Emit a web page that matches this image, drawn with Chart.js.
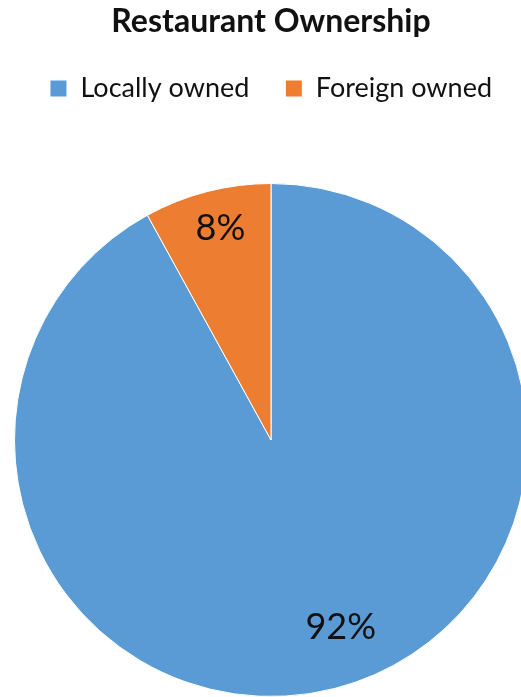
<!DOCTYPE html>
<html>
<head>
<meta charset="utf-8">
<title>Restaurant Ownership</title>
<script src="https://cdn.jsdelivr.net/npm/chart.js@4/dist/chart.umd.min.js"></script>
<style>
  html, body { margin: 0; padding: 0; background: #fff; overflow: hidden; }
  #wrap { width: 542px; height: 697px; position: relative; }
</style>
</head>
<body>
<div id="wrap"><canvas id="ownershipChart"></canvas></div>
<script>
// Ownership split, in percent
const categories = ['Locally owned', 'Foreign owned'];
const shares = [92, 8];
const sliceColors = ['#5B9BD5', '#ED7D31'];

// where each percent label sits: fraction of radius, angle nudge in degrees
const labelPlacement = [
    { radius: 0.78, nudge: -6 },
    { radius: 0.85, nudge: 1 }
];

const FONT = "Lato, 'Open Sans', sans-serif";

// Draws "NN%" on every slice
const sliceLabels = {
    id: 'sliceLabels',
    afterDatasetsDraw(chart) {
        const ctx = chart.ctx;
        const meta = chart.getDatasetMeta(0);
        ctx.save();
        ctx.font = '36px ' + FONT;
        ctx.fillStyle = '#111';
        ctx.textAlign = 'center';
        ctx.textBaseline = 'middle';
        meta.data.forEach(function(arc, i) {
            const p = arc.getProps(['x', 'y', 'startAngle', 'endAngle', 'outerRadius'], true);
            const place = labelPlacement[i];
            const mid = (p.startAngle + p.endAngle) / 2 + place.nudge * Math.PI / 180;
            const r = p.outerRadius * place.radius;
            ctx.fillText(shares[i] + '%', p.x + Math.cos(mid) * r, p.y + Math.sin(mid) * r);
        });
        ctx.restore();
    }
};

// Extra gap between the legend and the pie
const legendSpacer = {
    id: 'legendSpacer',
    beforeInit(chart) {
        const origFit = chart.legend.fit;
        chart.legend.fit = function fit() {
            origFit.bind(chart.legend)();
            this.height += 71;
        };
    }
};

document.addEventListener('DOMContentLoaded', function() {
    const ctx = document.getElementById('ownershipChart').getContext('2d');
    new Chart(ctx, {
        type: 'pie',
        data: {
            labels: categories,
            datasets: [{
                data: shares,
                backgroundColor: sliceColors,
                borderColor: '#ffffff',
                borderWidth: 1
            }]
        },
        options: {
            responsive: true,
            maintainAspectRatio: false,
            animation: false,
            layout: { padding: 0 },
            plugins: {
                title: {
                    display: true,
                    text: 'Restaurant Ownership',
                    color: '#111',
                    font: { family: FONT, size: 32, weight: 'bold', lineHeight: 1 },
                    padding: { top: 6, bottom: 1 }
                },
                legend: {
                    position: 'top',
                    labels: {
                        color: '#111',
                        font: { family: FONT, size: 27 },
                        boxWidth: 17,
                        boxHeight: 17,
                        padding: 36
                    }
                },
                tooltip: { enabled: false }
            }
        },
        plugins: [sliceLabels, legendSpacer]
    });
});
</script>
</body>
</html>
